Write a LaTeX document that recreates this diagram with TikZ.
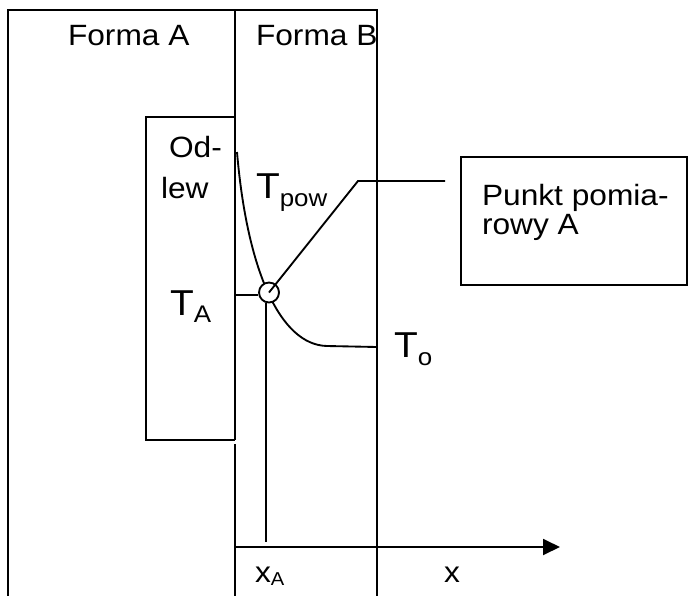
\documentclass[tikz,border=0pt]{standalone}
\usepackage{fontspec}
\setmainfont{Liberation Sans}[FakeStretch=1.08]
\usetikzlibrary{arrows.meta}

% Temperature symbol with a lowered index: #1 index text, #2 drop
\newcommand{\tempsym}[2]{{\fontsize{27}{30}\selectfont T}\raisebox{-#2}{\fontsize{18}{21}\selectfont #1}}

\begin{document}
\begin{tikzpicture}[x=0.75pt,y=-0.75pt,line width=1.4pt,
  lbl/.style={anchor=base west,inner sep=0pt,outer sep=0pt,font=\fontsize{22}{25}\selectfont},
  wall/.style={line width=1.4pt},
  probe/.style={circle,draw,fill=white,minimum size=15pt,inner sep=0pt,line width=1.4pt}]
\useasboundingbox (0,0) rectangle (689,596);

% mould walls
\coordinate (tl) at (8,10);
\coordinate (tm) at (235,10);
\coordinate (tr) at (377,10);
\draw[wall] (8,596) -- (tl) -- (tr) -- (377,596);
\draw[wall] (tm) -- (235,440);
\draw[wall] (235,444) -- (235,596);

% casting
\draw[wall] (235,117) -- (146,117) -- (146,440) -- (235,440);

% temperature profile
\coordinate (c0) at (237,152);
\coordinate (c1) at (327,346);
\coordinate (c2) at (377,347);
\draw (c0) .. controls (247,270) and (280,345) .. (c1) -- (c2);

% measuring point
\node[probe] (pt) at (269,292.5) {};
\coordinate (xa) at (266,542);
\draw (pt.253) -- (pt.253 |- xa);
\draw (pt.193 -| tm) -- (pt.193);
\coordinate (knee) at (358,181);
\coordinate (lead) at (445,181);
\draw (pt.center) -- (knee) -- (lead);

% callout box
\node[draw,minimum width=169.5pt,minimum height=96pt,inner sep=0pt] (box) at (574,221) {};
\node[lbl] (p1) at (482,205) {Punkt pomia-};
\node[lbl] (p2) at (482,234) {rowy A};

% x axis
\coordinate (ax0) at (235,547);
\coordinate (ax1) at (560,547);
\draw[-{Triangle[length=12.75pt,width=12pt]}] (ax0) -- (ax1);

% labels
\node[lbl] (fa) at (68,45) {Forma A};
\node[lbl] (fb) at (256,45) {Forma B};
\node[lbl] (od1) at (169,157) {Od-};
\node[lbl] (od2) at (161,198) {lew};
\node[lbl] (tpow) at (256,198) {\tempsym{pow}{6pt}};
\node[lbl] (ta) at (170,315) {\tempsym{A}{5.25pt}};
\node[lbl] (to) at (394,357) {\tempsym{o}{6pt}};
\node[lbl] (xA) at (255,582) {x\raisebox{-2.25pt}{\fontsize{14}{16}\selectfont A}};
\node[lbl] (x) at (444,582) {x};
\end{tikzpicture}
\end{document}
